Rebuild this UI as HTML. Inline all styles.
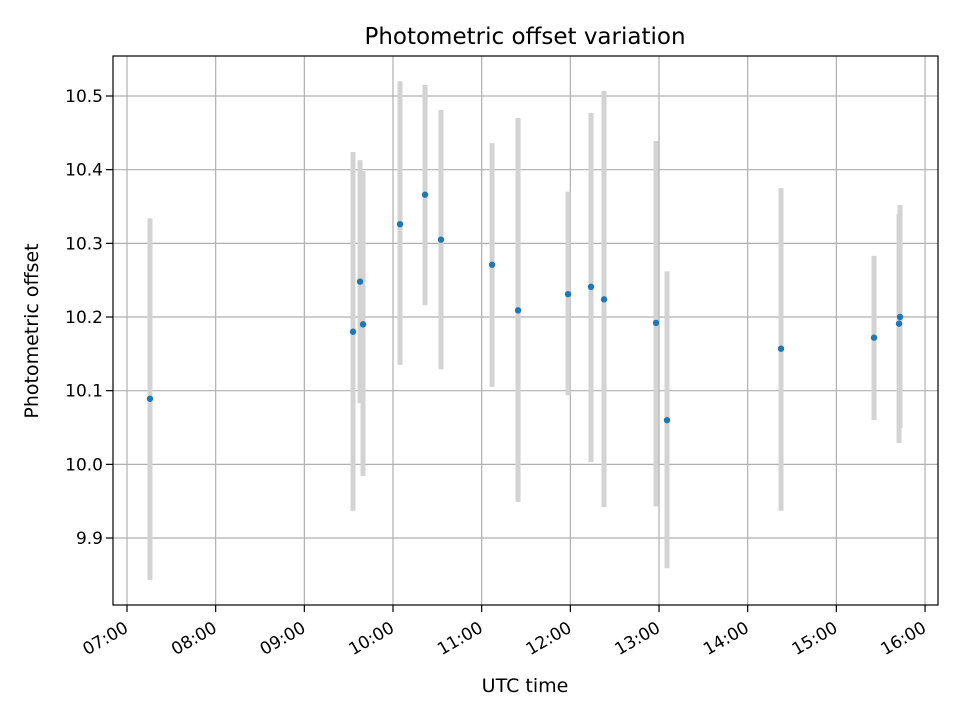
<!DOCTYPE html>
<html><head><meta charset="utf-8"><style>body{margin:0;background:#fff}svg{display:block;font-family:"DejaVu Sans","Liberation Sans",sans-serif}</style></head>
<body>
<svg id="chart" width="960" height="720">
<rect width="960" height="720" fill="#fff"/>
<text x="525" y="44" text-anchor="middle" font-size="23">Photometric offset variation</text>
<g id="grid"></g><g id="bars"></g><g id="pts"></g>
<rect x="113" y="56" width="825" height="549" fill="none" stroke="#000" stroke-width="1.2"/>
<g id="ticks"></g>
<text x="525" y="692" text-anchor="middle" font-size="19">UTC time</text>
<text transform="translate(38,331) rotate(-90)" text-anchor="middle" font-size="19">Photometric offset</text>
</svg>
<script>
const times=[7.259,9.549,9.628,9.662,10.079,10.361,10.541,11.117,11.410,11.974,12.233,12.380,12.966,13.090,14.376,15.425,15.718,15.707];
const values=[10.089,10.180,10.248,10.190,10.326,10.366,10.305,10.271,10.209,10.231,10.241,10.224,10.192,10.060,10.157,10.172,10.200,10.191];
const errTop=[10.334,10.424,10.413,10.398,10.520,10.515,10.481,10.436,10.470,10.370,10.477,10.507,10.439,10.262,10.375,10.283,10.352,10.340];
const errBot=[9.843,9.937,10.083,9.984,10.135,10.216,10.129,10.105,9.949,10.094,10.003,9.942,9.943,9.859,9.937,10.060,10.049,10.029];
const xTicks=[7,8,9,10,11,12,13,14,15,16];
const xTickLabels=["07:00","08:00","09:00","10:00","11:00","12:00","13:00","14:00","15:00","16:00"];
const yTicks=[9.9,10.0,10.1,10.2,10.3,10.4,10.5];
const yTickLabels=["9.9","10.0","10.1","10.2","10.3","10.4","10.5"];
const X=t=>127+(t-7)*88.67, Y=v=>96+(10.5-v)*736.7;
const NS="http://www.w3.org/2000/svg";
function mk(tag,parent,attrs){const e=document.createElementNS(NS,tag);for(const k in attrs)e.setAttribute(k,attrs[k]);document.getElementById(parent).appendChild(e);return e;}
xTicks.forEach((t,i)=>{const x=X(t);
 let g=mk('line','grid',{x1:x,x2:x,y1:56,y2:605,stroke:'#b0b0b0','stroke-width':1.2});
 
 let tk=mk('line','ticks',{x1:x,x2:x,y1:605,y2:612,stroke:'#000','stroke-width':1.2});
 
 const ax=x-4, ay=620;
 let tx=mk('text','ticks',{x:ax,y:ay,'text-anchor':'end','font-size':17,transform:`rotate(-30 ${ax} ${ay})`,dy:'0.75em'});
 tx.textContent=xTickLabels[i];});
yTicks.forEach((v,i)=>{const y=Y(v);
 let g=mk('line','grid',{x1:113,x2:938,y1:y,y2:y,stroke:'#b0b0b0','stroke-width':1.2});
 
 let tk=mk('line','ticks',{x1:106,x2:113,y1:y,y2:y,stroke:'#000','stroke-width':1.2});
 
 let tx=mk('text','ticks',{x:103,y:y+6,'text-anchor':'end','font-size':17});
 tx.textContent=yTickLabels[i];});
times.forEach((t,i)=>{const x=X(t);
 let b=mk('line','bars',{x1:x,x2:x,y1:Y(errTop[i]),y2:Y(errBot[i]),stroke:'#d3d3d3','stroke-width':5});
 
 let p=mk('circle','pts',{cx:x,cy:Y(values[i]),r:3.2,fill:'#1f77b4'});
 });
</script>
</body></html>
